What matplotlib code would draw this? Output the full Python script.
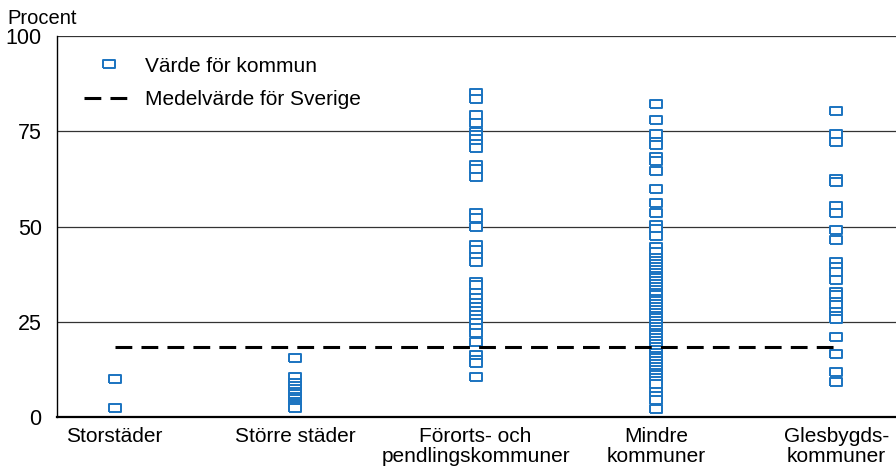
import numpy as np
import matplotlib
matplotlib.use('Agg')
import matplotlib.pyplot as plt
from matplotlib.lines import Line2D

plt.rcParams['font.family'] = ['Liberation Sans', 'DejaVu Sans']

categories = ['Storstäder', 'Större städer', 'Förorts- och\npendlingskommuner',
              'Mindre\nkommuner', 'Glesbygds-\nkommuner']

storstader = [10.0, 2.4]
storre_stader = [15.6, 10.6, 9.0, 8.0, 7.3, 6.6, 5.9, 5.3, 4.6, 4.0, 3.4, 2.9, 2.4]
fororts = [85.1, 83.5, 79.4, 77.1, 74.9, 74.0, 72.9, 71.7, 70.5, 66.1, 65.0, 63.1,
           53.5, 52.3, 49.9, 45.1, 43.8, 42.1, 40.8, 35.5, 34.6, 32.5, 31.2, 30.0,
           29.0, 27.9, 26.8, 25.6, 24.6, 23.3, 22.1, 19.8, 16.3, 15.0, 14.1, 10.6]
mindre = [82.2, 78.1, 74.2, 72.3, 71.4, 68.3, 67.2, 64.6, 59.8, 56.1, 53.5, 50.4,
          49.3, 47.6, 44.7, 43.4, 41.7, 40.9, 40.1, 39.4, 38.6, 37.9, 37.1, 36.4,
          35.6, 34.9, 34.1, 33.4, 32.6, 31.9, 31.1, 30.4, 29.6, 28.9, 28.1, 27.4,
          26.6, 25.9, 25.1, 24.4, 23.6, 22.9, 22.1, 21.4, 20.6, 19.9, 19.1, 18.4,
          17.6, 16.9, 16.1, 15.4, 14.6, 13.9, 13.1, 12.4, 11.6, 10.9, 10.1, 9.4,
          8.6, 6.6, 5.5, 4.5, 2.0]
glesbygd = [80.3, 74.2, 72.3, 62.6, 61.8, 55.4, 53.6, 49.1, 46.5, 40.8, 39.5, 38.1,
            36.0, 32.9, 32.0, 30.3, 29.4, 27.6, 26.5, 25.6, 20.9, 16.5, 11.9, 9.3]
series = [storstader, storre_stader, fororts, mindre, glesbygd]
sverige_medel = 18.4

blue = '#1a73c0'
rect = [(-1, -0.6), (1, -0.6), (1, 0.6), (-1, 0.6), (-1, -0.6)]

fig = plt.figure(figsize=(8.96, 4.69), dpi=100)
ax = fig.add_axes([0.0636, 0.111, 0.9364, 0.812])

for i, vals in enumerate(series):
    ax.plot([i] * len(vals), vals, linestyle='none', marker=rect, markersize=8.5,
            markerfacecolor='white', markeredgecolor=blue, markeredgewidth=1.4,
            zorder=3)

ax.plot([0, len(categories) - 1], [sverige_medel, sverige_medel], color='black',
        linestyle=(0, (5.5, 3)), linewidth=2.2, zorder=4)

ax.set_xlim(-0.32, 4.33)
ax.set_ylim(0, 100)
ax.set_yticks([0, 25, 50, 75, 100])
ax.set_xticks(range(len(categories)))
ax.set_xticklabels(categories, fontsize=15, linespacing=1.1)
ax.tick_params(axis='y', labelsize=15.5, length=0, pad=11)
ax.tick_params(axis='x', length=0, pad=7)
for y in [25, 50, 75, 100]:
    ax.axhline(y, color='#333333', linewidth=0.9, zorder=1)

ax.spines['right'].set_visible(False)
ax.spines['top'].set_visible(False)
ax.spines['left'].set_linewidth(1.0)
ax.spines['bottom'].set_linewidth(1.6)

fig.text(0.008, 0.94, 'Procent', fontsize=14.5, va='bottom')

handles = [
    Line2D([], [], linestyle='none', marker=rect, markersize=8.5,
           markerfacecolor='white', markeredgecolor=blue, markeredgewidth=1.4),
    Line2D([], [], color='black', linestyle=(0, (5.5, 3)), linewidth=2.2),
]
ax.legend(handles, ['Värde för kommun', 'Medelvärde för Sverige'], loc='upper left',
          frameon=False, fontsize=15, handlelength=2.4, handletextpad=0.5,
          bbox_to_anchor=(0.01, 0.995), labelspacing=0.7)

fig.savefig('out.png', dpi=100)
